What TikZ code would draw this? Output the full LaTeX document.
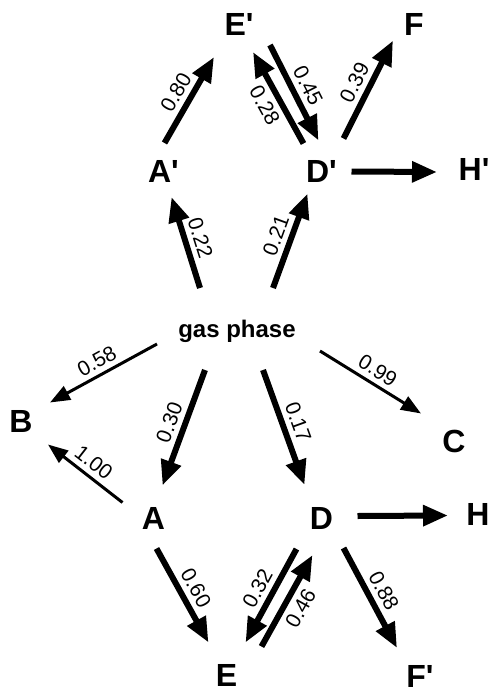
\documentclass[tikz,border=0pt]{standalone}
\usepackage{fontspec}
\setmainfont{Liberation Sans}
\usetikzlibrary{arrows.meta, calc}

\newcommand{\pr}{\textquotesingle}

\begin{document}
\begin{tikzpicture}[
    x=1pt, y=-1pt,
    species/.style={font=\fontsize{32}{32}\selectfont\bfseries, inner sep=0pt},
    phase/.style={font=\fontsize{24}{24}\selectfont\bfseries, inner sep=0pt},
    rate/.style={font=\fontsize{21}{21}\selectfont, sloped, inner sep=5pt},
    big/.style={line width=6pt, -{Triangle[length=25pt, width=20pt]}},
    small/.style={line width=3pt, -{Triangle[length=20pt, width=15pt]}},
  ]
  \useasboundingbox (0,0) rectangle (492,693);

  % upper species
  \node[species] (Ep) at (239, 24)    {E\pr};
  \node[species] (F)  at (414, 24.5)  {F};
  \node[species] (Ap) at (163.5, 171) {A\pr};
  \node[species] (Dp) at (321.5, 171.5) {D\pr};
  \node[species] (Hp) at (474, 169)   {H\pr};

  % gas phase
  \node[phase] (gas) at (237, 331) {gas phase};

  % lower species
  \node[species] (B)  at (21, 421.5)   {B};
  \node[species] (C)  at (454, 441.5)  {C};
  \node[species] (A)  at (153.5, 518.5) {A};
  \node[species] (D)  at (321.5, 518)  {D};
  \node[species] (H)  at (478, 514.5)  {H};
  \node[species] (E)  at (226.5, 675.5) {E};
  \node[species] (Fp) at (420, 676)    {F\pr};

  % upper arrows
  \draw[big] ($(Ap)+(1,-28)$) -- node[rate, above] {0.80} ($(Ep)+(-25,33)$);
  \draw[big] ($(Ep)+(31,21)$) -- node[rate, above] {0.45} ($(Dp)+(-3,-31)$);
  \draw[big] ($(Dp)+(-18,-28)$) -- node[rate, below] {0.28} ($(Ep)+(14,28)$);
  \draw[big] ($(Dp)+(22,-33)$) -- node[rate, above] {0.39} ($(F)+(-21,16)$);
  \draw[big] ($(Dp)+(30,0)$) -- ($(Hp)+(-37,3)$);
  \draw[big] ($(gas)+(-37,-43)$) -- node[rate, above] {0.22} ($(Ap)+(8,26)$);
  \draw[big] ($(gas)+(36,-43)$) -- node[rate, above] {0.21} ($(Dp)+(-14,22)$);

  % lower arrows
  \draw[small] ($(gas)+(-80,13)$) -- node[rate, above] {0.58} ($(B)+(29,-19)$);
  \draw[small] ($(gas)+(83,20)$) -- node[rate, above] {0.99} ($(C)+(-33,-28)$);
  \draw[big] ($(gas)+(-32,39)$) -- node[rate, above] {0.30} ($(A)+(9,-33)$);
  \draw[big] ($(gas)+(26,39)$) -- node[rate, above] {0.17} ($(D)+(-17,-33)$);
  \draw[small] ($(A)+(-31,-16)$) -- node[rate, above] {1.00} ($(B)+(27,23)$);
  \draw[big] ($(D)+(36,-2)$) -- ($(H)+(-30,1)$);
  \draw[big] ($(A)+(3,30)$) -- node[rate, above] {0.60} ($(E)+(-18,-33)$);
  \draw[big] ($(D)+(-25,31)$) -- node[rate, above] {0.32} ($(E)+(19,-33)$);
  \draw[big] ($(E)+(35,-29)$) -- node[rate, below] {0.46} ($(D)+(-9,37)$);
  \draw[big] ($(D)+(22,30)$) -- node[rate, above] {0.88} ($(Fp)+(-23,-28)$);
\end{tikzpicture}
\end{document}
